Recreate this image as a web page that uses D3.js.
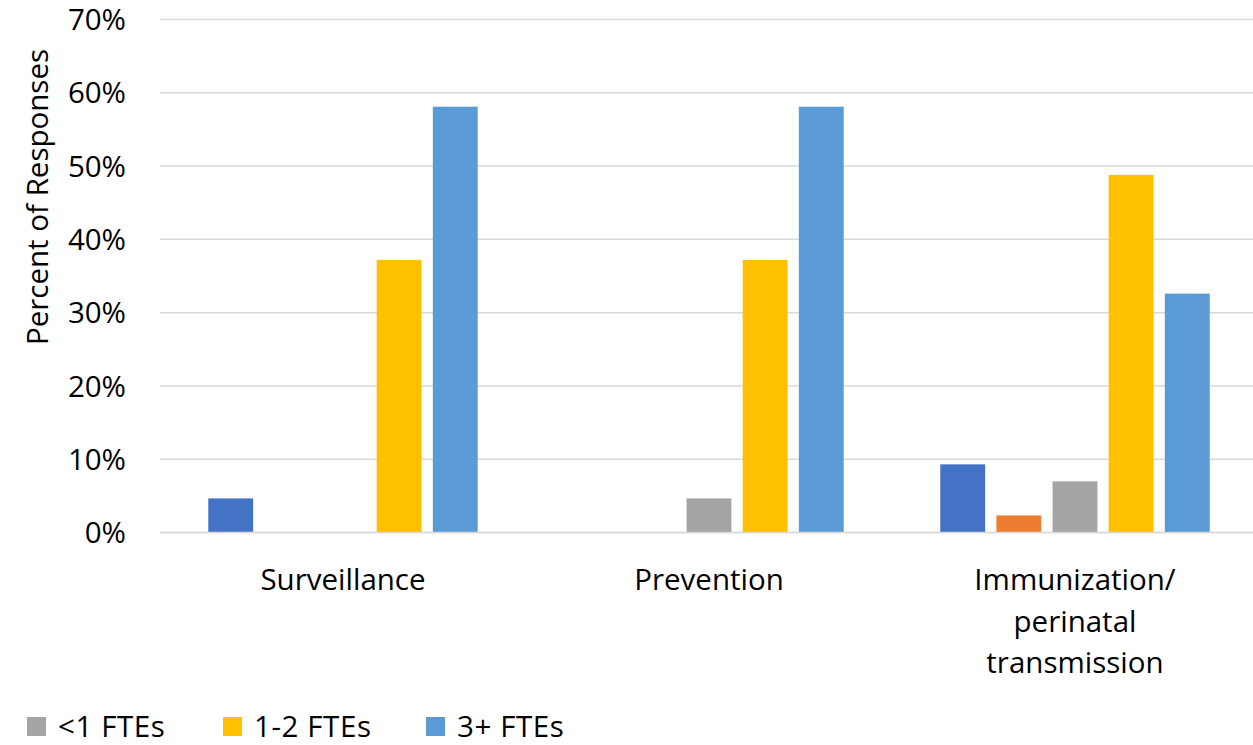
<!DOCTYPE html>
<html><head><meta charset="utf-8">
<script src="https://cdn.jsdelivr.net/npm/d3@7"></script>
<style>body{margin:0;background:#fff}svg{display:block}text{font-family:"Open Sans",sans-serif;fill:#000}</style>
</head><body>
<svg id="c" width="1253" height="745"></svg>
<script>
const categories = [["Surveillance"], ["Prevention"], ["Immunization/", "perinatal", "transmission"]];
const seriesNames = ["None", "Unknown", "<1 FTEs", "1-2 FTEs", "3+ FTEs"];
const seriesColors = ["#4472c4", "#ed7d31", "#a5a5a5", "#ffc000", "#5b9bd5"];
const values = [
  [4.65, 0, 0, 37.2, 58.1],
  [0, 0, 4.65, 37.2, 58.1],
  [9.3, 2.33, 6.98, 48.8, 32.6]
];
const yTicks = [0, 10, 20, 30, 40, 50, 60, 70];
const legendItems = ["<1 FTEs", "1-2 FTEs", "3+ FTEs"];

const FS = 29.5;
const svg = d3.select("#c");
const catKeys = categories.map(c => c.join(" "));
const x0 = d3.scaleBand().domain(catKeys).range([160, 1258]).padding(0);
const x1 = d3.scaleBand().domain(seriesNames).range([0, x0.bandwidth()]).paddingInner(0.2).paddingOuter(0.86);
const y = d3.scaleLinear().domain([0, 70]).range([532.5, 19.5]);

// gridlines
svg.append("g").selectAll("line").data(yTicks).join("line")
  .attr("x1", 160).attr("x2", 1253)
  .attr("y1", d => y(d)).attr("y2", d => y(d))
  .attr("stroke", "#d9d9d9").attr("stroke-width", 1.5);

// y tick labels
svg.append("g").selectAll("text").data(yTicks).join("text")
  .attr("x", 126).attr("y", d => y(d)).attr("dy", "0.36em")
  .attr("text-anchor", "end").attr("font-size", FS)
  .text(d => d + "%");

// bars
const g = svg.append("g").selectAll("g").data(values).join("g")
  .attr("transform", (d, i) => `translate(${x0(catKeys[i])},0)`);
g.selectAll("rect").data(d => d.map((v, j) => ({v, j}))).join("rect")
  .attr("x", d => x1(seriesNames[d.j]))
  .attr("width", x1.bandwidth())
  .attr("y", d => y(d.v))
  .attr("height", d => y(0) - y(d.v))
  .attr("fill", d => seriesColors[d.j]);

// baseline
svg.append("line").attr("x1", 160).attr("x2", 1253).attr("y1", y(0)).attr("y2", y(0))
  .attr("stroke", "#d9d9d9").attr("stroke-width", 1.5);

// x labels
categories.forEach((lines, i) => {
  const cx = x0(catKeys[i]) + x0.bandwidth() / 2;
  const t = svg.append("text").attr("text-anchor", "middle").attr("font-size", FS);
  lines.forEach((l, k) => t.append("tspan").attr("x", cx).attr("y", 590 + k * 41.5).text(l));
});

// y title
svg.append("text").attr("transform", "translate(48,197) rotate(-90)")
  .attr("text-anchor", "middle").attr("font-size", FS).text("Percent of Responses");

// legend
const legX = [27, 223, 426];
const lg = svg.append("g").selectAll("g").data(legendItems).join("g")
  .attr("transform", (d, i) => `translate(${legX[i]},0)`);
lg.append("rect").attr("x", 0).attr("y", 717).attr("width", 19).attr("height", 19)
  .attr("fill", (d, i) => seriesColors[i + 2]);
lg.append("text").attr("x", 31).attr("y", 737).attr("font-size", FS).attr("letter-spacing", 0.6).text(d => d);
</script>
</body></html>
